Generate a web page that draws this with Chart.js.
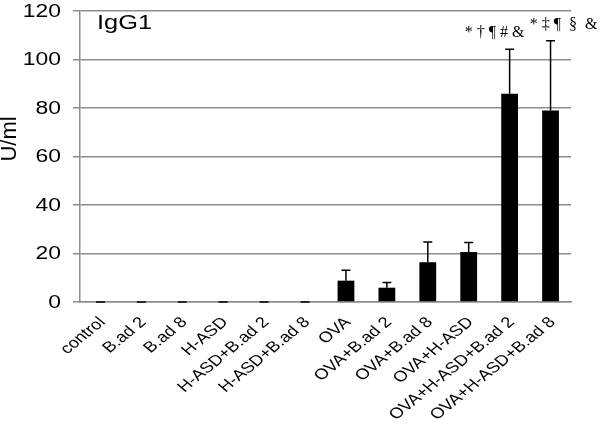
<!DOCTYPE html>
<html>
<head>
<meta charset="utf-8">
<script src="https://cdn.jsdelivr.net/npm/chart.js@4.4.0/dist/chart.umd.min.js"></script>
<style>
  html, body { margin: 0; padding: 0; background: #fff; }
  #wrap { width: 600px; height: 426px; position: relative; }
</style>
</head>
<body>
<div id="wrap"><canvas id="graph-igg1"></canvas></div>
<script>
// Grupos (eixo x)
const groups = ['control', 'B.ad 2', 'B.ad 8', 'H-ASD', 'H-ASD+B.ad 2', 'H-ASD+B.ad 8',
                'OVA', 'OVA+B.ad 2', 'OVA+B.ad 8', 'OVA+H-ASD', 'OVA+H-ASD+B.ad 2', 'OVA+H-ASD+B.ad 8'];
// Médias (U/ml)
const meanValues = [0, 0, 0, 0, 0, 0, 8.8, 5.9, 16.4, 20.6, 85.9, 79.0];
// Desvio padrão (apenas para cima)
const sdValues = [0, 0, 0, 0, 0, 0, 4.3, 2.1, 8.3, 3.9, 18.3, 28.7];
// Marcas de significância
const sigLabels = ['', '', '', '', '', '', '', '', '', '', '* † ¶ # &', '* ‡ ¶  §  &'];
const yTicks = [0, 20, 40, 60, 80, 100, 120];

const sans = "'Liberation Sans', Arial, Helvetica, sans-serif";
const serif = "'Liberation Serif', 'Times New Roman', serif";
const stretch = 1.27; // a figura original é esticada na horizontal

// Barras de erro + textos de significância
const errorBarsPlugin = {
    id: 'errorBars',
    afterDatasetsDraw(chart) {
        const ctx = chart.ctx;
        const meta = chart.getDatasetMeta(0);
        const yScale = chart.scales.y;
        ctx.save();
        ctx.strokeStyle = '#000';
        ctx.lineWidth = 1.5;
        meta.data.forEach(function(bar, i) {
            const yTop = yScale.getPixelForValue(meanValues[i] + sdValues[i]);
            const yBar = yScale.getPixelForValue(meanValues[i]);
            ctx.beginPath();
            ctx.moveTo(bar.x, yBar);
            ctx.lineTo(bar.x, yTop);
            ctx.moveTo(bar.x - 4.5, yTop);
            ctx.lineTo(bar.x + 4.5, yTop);
            ctx.stroke();
        });
        const offsets = { 10: -15, 11: 13 };
        ctx.fillStyle = '#000';
        ctx.font = '16px ' + serif;
        ctx.textAlign = 'center';
        ctx.textBaseline = 'alphabetic';
        meta.data.forEach(function(bar, i) {
            if (!sigLabels[i]) return;
            const yTop = yScale.getPixelForValue(meanValues[i] + sdValues[i]);
            ctx.fillText(sigLabels[i], bar.x + (offsets[i] || 0), yTop - 12);
        });
        ctx.restore();
    }
};

// Rótulos do x, ticks do y, título do y e "IgG1"
const labelsPlugin = {
    id: 'labels',
    afterDraw(chart) {
        const ctx = chart.ctx;
        const xScale = chart.scales.x;
        const yScale = chart.scales.y;
        const area = chart.chartArea;
        ctx.save();
        ctx.fillStyle = '#000';
        ctx.textBaseline = 'middle';
        ctx.font = '15px ' + sans;
        groups.forEach(function(label, i) {
            ctx.save();
            ctx.translate(xScale.getPixelForTick(i) + 2, area.bottom + 18);
            ctx.scale(1.22, 1);
            ctx.rotate(-Math.PI / 4);
            ctx.textAlign = 'right';
            ctx.fillText(label, 0, 0);
            ctx.restore();
        });
        // ticks do eixo y
        ctx.font = '18px ' + sans;
        ctx.textAlign = 'right';
        yTicks.forEach(function(v) {
            ctx.save();
            ctx.translate(area.left - 19, yScale.getPixelForValue(v) + 1);
            ctx.scale(stretch, 1);
            ctx.fillText(String(v), 0, 0);
            ctx.restore();
        });
        // título y
        ctx.save();
        ctx.font = '22px ' + sans;
        ctx.textAlign = 'center';
        ctx.translate(10, 139);
        ctx.rotate(-Math.PI / 2);
        ctx.fillText('U/ml', 0, 0);
        ctx.restore();
        // IgG1
        ctx.save();
        ctx.font = '20px ' + sans;
        ctx.textAlign = 'left';
        ctx.textBaseline = 'alphabetic';
        ctx.translate(area.left + 17, area.top + 18);
        ctx.scale(stretch, 1);
        ctx.fillText('IgG1', 0, 0);
        ctx.restore();
        ctx.restore();
    }
};

var ctx = document.getElementById('graph-igg1').getContext('2d');
var myChart = new Chart(ctx, {
    type: 'bar',
    data: {
        labels: groups,
        datasets: [{
            label: 'IgG1',
            data: meanValues,
            backgroundColor: '#000',
            borderWidth: 0,
            barPercentage: 0.41,
            categoryPercentage: 1.0
        }]
    },
    options: {
        responsive: true,
        maintainAspectRatio: false,
        animation: false,
        layout: { padding: { top: 11, right: 29, left: 0, bottom: 0 } },
        plugins: {
            legend: { display: false },
            tooltip: { enabled: false }
        },
        scales: {
            x: {
                grid: { display: false },
                border: { display: true, color: '#8c8c8c', width: 1.5 },
                ticks: { display: false },
                afterFit: function(scale) { scale.height = 124; }
            },
            y: {
                min: 0,
                max: 120,
                afterBuildTicks: function(scale) {
                    scale.ticks = yTicks.map(function(v) { return { value: v }; });
                },
                grid: { color: '#8c8c8c', lineWidth: 1.5, tickLength: 7, drawTicks: true },
                border: { display: true, color: '#8c8c8c', width: 1.5 },
                ticks: {
                    color: 'rgba(0,0,0,0)',
                    font: { family: sans, size: 2 },
                    padding: 0
                },
                afterFit: function(scale) { scale.width = 80; }
            }
        }
    },
    plugins: [errorBarsPlugin, labelsPlugin]
});
</script>
</body>
</html>
